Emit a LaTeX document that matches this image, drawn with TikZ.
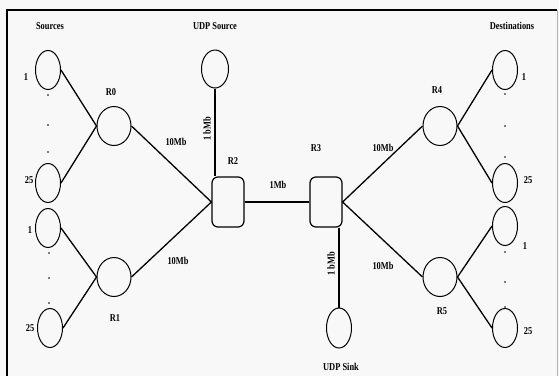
\documentclass[tikz,border=0pt]{standalone}
\usepackage{fontspec}
\setmainfont{Liberation Serif}
\usetikzlibrary{shapes.geometric}
\definecolor{paper}{RGB}{248,248,248}
\newcommand{\narrowtxt}[1]{\scalebox{0.8}[1]{#1}}
\tikzset{
  host/.style={draw, ellipse, line width=1pt, minimum width=25pt, minimum height=39pt, inner sep=0pt},
  router/.style={draw, ellipse, line width=1pt, minimum width=34pt, minimum height=39pt, inner sep=0pt},
  core/.style={draw, rectangle, rounded corners=6pt, line width=1.2pt, minimum width=32pt, minimum height=50pt, inner sep=0pt},
  link/.style={line width=1.3pt},
  lbl/.style={font=\bfseries\fontsize{10.5}{11}\selectfont, inner sep=0pt},
  pt/.style={fill, circle, inner sep=0pt, minimum size=1.6pt}
}
\begin{document}
\begin{tikzpicture}[x=1pt, y=-1pt]
  % page and frame
  \fill[paper] (0,0) rectangle (559,376);
  \useasboundingbox (0,0) rectangle (559,376);
  \draw[line width=1.4pt] (7,376) -- (7,10) -- (557,10);
  \draw[gray!60, line width=0.8pt] (557,10) -- (557,376);

  % group headings
  \node[lbl] (hsrc) at (50,26) {\narrowtxt{Sources}};
  \node[lbl] (hudp) at (215,26) {\narrowtxt{UDP Source}};
  \node[lbl] (hdst) at (512,26) {\narrowtxt{Destinations}};

  % source hosts
  \node[host] (s1)  at (48,70)  {};
  \node[host] (s25) at (48,183) {};
  \node[host] (s1b) at (48,228) {};
  \node[host] (s25b) at (50,328) {};
  \node[lbl] (ls1)  at (26,77)  {\narrowtxt{1}};
  \node[lbl] (ls25) at (29,180) {\narrowtxt{25}};
  \node[lbl] (ls1b) at (30,230) {\narrowtxt{1}};
  \node[lbl] (ls25b) at (30,328) {\narrowtxt{25}};

  % destination hosts
  \node[host] (d1)  at (505,70)  {};
  \node[host] (d25) at (505,183) {};
  \node[host] (d1b) at (505,226) {};
  \node[host] (d25b) at (505,328) {};
  \node[lbl] (ld1)  at (524,77)  {\narrowtxt{1}};
  \node[lbl] (ld25) at (528,180) {\narrowtxt{25}};
  \node[lbl] (ld1b) at (525,246) {\narrowtxt{1}};
  \node[lbl] (ld25b) at (528,331) {\narrowtxt{25}};

  % ellipsis dots between host 1 and host 25
  \foreach \yy in {95,125,152} {\node[pt] at (48,\yy) {};}
  \foreach \yy in {253,278,303} {\node[pt] at (49,\yy) {};}
  \foreach \yy in {94,126,157} {\node[pt] at (505,\yy) {};}
  \foreach \yy in {252,282,307} {\node[pt] at (505,\yy) {};}

  % edge routers
  \node[router] (r0) at (114,126) {};
  \node[router] (r1) at (114,277) {};
  \node[router] (r4) at (440,126) {};
  \node[router] (r5) at (440,277) {};
  \node[lbl] (lr0) at (111,92)  {\narrowtxt{R0}};
  \node[lbl] (lr1) at (115,318) {\narrowtxt{R1}};
  \node[lbl] (lr4) at (437,90)  {\narrowtxt{R4}};
  \node[lbl] (lr5) at (442,311) {\narrowtxt{R5}};

  % bottleneck routers
  \node[core] (r2) at (228,202) {};
  \node[core] (r3) at (326,202) {};
  \node[lbl] (lr2) at (233,161) {\narrowtxt{R2}};
  \node[lbl] (lr3) at (316,148) {\narrowtxt{R3}};

  % UDP endpoints
  \node[host, minimum width=27pt, minimum height=38pt] (usrc) at (215,69) {};
  \node[host, minimum height=40pt] (usink) at (339,328) {};
  \node[lbl] (lusink) at (341,367) {\narrowtxt{UDP Sink}};

  % access links
  \draw[link] (s1.east) -- (r0.west);
  \draw[link] (s25.east) -- (r0.west);
  \draw[link] (s1b.east) -- (r1.west);
  \draw[link] (s25b.east) -- (r1.west);
  \draw[link] (r4.east) -- (d1.west);
  \draw[link] (r4.east) -- (d25.west);
  \draw[link] (r5.east) -- (d1b.west);
  \draw[link] (r5.east) -- (d25b.west);

  % 10Mb links to the bottleneck
  \draw[link] (r0.east) -- (r2.west);
  \draw[link] (r1.east) -- (r2.west);
  \draw[link] (r3.east) -- (r4.west);
  \draw[link] (r3.east) -- (r5.west);
  \node[lbl] (l10a) at (176,142) {\narrowtxt{10Mb}};
  \node[lbl] (l10b) at (178,261) {\narrowtxt{10Mb}};
  \node[lbl] (l10c) at (383,148) {\narrowtxt{10Mb}};
  \node[lbl] (l10d) at (383,266) {\narrowtxt{10Mb}};

  % bottleneck link
  \draw[link] (r2.east) -- (r3.west);
  \node[lbl] (l1m) at (278,185) {\narrowtxt{1Mb}};

  % UDP links
  \draw[link] (usrc.south) -- (usrc.south |- r2.north);
  \draw[link] (usink.north |- r3.south) -- (usink.north);
  \node[lbl, rotate=90] (lu1) at (207,129) {\narrowtxt{1 bMb}};
  \node[lbl, rotate=90] (lu2) at (331,264) {\narrowtxt{1 bMb}};
\end{tikzpicture}
\end{document}
